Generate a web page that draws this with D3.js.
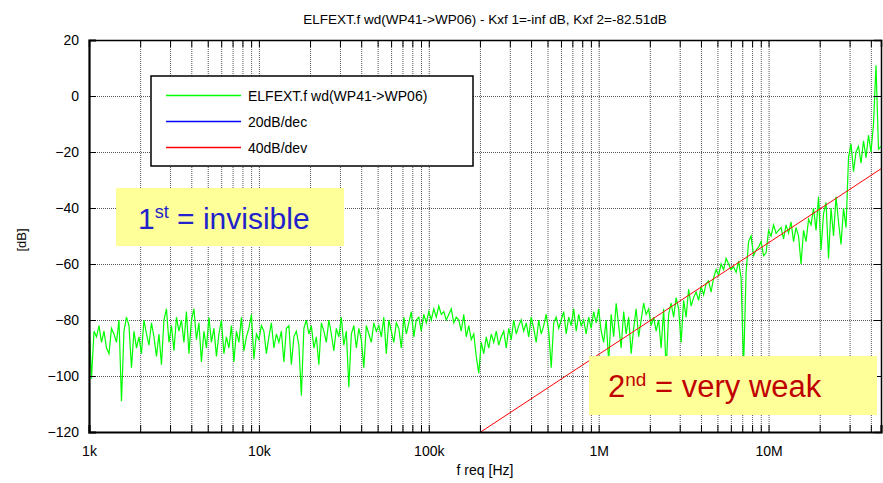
<!DOCTYPE html>
<html>
<head>
<meta charset="utf-8">
<script src="https://cdnjs.cloudflare.com/ajax/libs/d3/7.8.5/d3.min.js"></script>
<style>
  body { margin: 0; background: #fff; }
  svg text { font-family: "Liberation Sans", Arial, sans-serif; }
</style>
</head>
<body>
<svg id="chart"></svg>
<script>
const width = 883, height = 483;
const margin = {top: 40, right: 2, bottom: 51, left: 89};
const INNER_WIDTH = width - margin.left - margin.right;
const INNER_HEIGHT = height - margin.top - margin.bottom;

// measured sweep: log spaced from fStart to fStop
const fStart = 1e3, fStop = 4.59e7;
const elfext_db = [
  -80,-101,-84,-86, -82,-88,-84,-90, -92,-83,-85,-88, -80,-109,-84,-79,
  -82,-97,-84,-90, -86,-92,-80,-85, -89,-81,-86,-93, -85,-96,-80,-76,
  -88,-82,-91,-79, -84,-80,-88,-77, -92,-80,-76,-87, -81,-95,-84,-90,
  -79,-88,-83,-93, -85,-80,-92,-86, -90,-82,-95,-84, -88,-79,-91,-86,
  -83,-78,-94,-85, -87,-82,-84,-92, -86,-81,-90,-85, -88,-84,-95,-83,
  -82,-96,-86,-84, -89,-107,-83,-80, -85,-82,-90,-86, -96,-81,-84,-88,
  -80,-85,-91,-83, -86,-79,-89,-84, -104,-85,-82,-90, -83,-87,-97,-82,
  -85,-88,-81,-84, -82,-86,-79,-92, -80,-84,-88,-81, -83,-90,-79,-85,
  -81,-77,-86,-80, -79,-84,-78,-81, -77,-80,-76,-79, -75,-78,-77,-80,
  -78,-76,-81,-79, -80,-84,-78,-86, -82,-87,-85,-93, -99,-88,-92,-86,
  -90,-85,-88,-84, -89,-86,-84,-90, -83,-87,-80,-85, -82,-80,-84,-81,
  -86,-79,-83,-88, -80,-85,-82,-78, -84,-97,-81,-79, -83,-80,-77,-85,
  -79,-82,-76,-84, -78,-82,-80,-85, -79,-83,-77,-81, -76,-84,-88,-80,
  -95,-78,-86,-74, -82,-90,-77,-85, -79,-92,-83,-76, -86,-80,-74,-78,
  -76,-82,-79,-84, -80,-90,-76,-98, -78,-74,-79,-72, -76,-88,-73,-79,
  -69,-75,-72,-70, -73,-68,-71,-67, -66,-70,-65,-62, -64,-60,-62,-58,
  -60,-62,-61,-63, -59,-65,-97,-63, -52,-50,-57,-55, -54,-52,-57,-56,
  -48,-50,-46,-49, -48,-47,-51,-46, -49,-45,-52,-47, -50,-60,-48,-52,
  -44,-46,-40,-48, -36,-55,-42,-38, -58,-40,-50,-36, -45,-53,-40,-47,
  -22,-17,-27,-20, -18,-24,-16,-22, -14,-20,-10,11, -19,-18
];
// 40 dB/dec reference line end points
const slope40 = [[2.02e5, -120], [4.59e7, -26]];

const yTicks = [-120, -100, -80, -60, -40, -20, 0, 20];
const decades = [1e3, 1e4, 1e5, 1e6, 1e7];
const decadeLabels = ["1k", "10k", "100k", "1M", "10M"];
const legendNames = ["ELFEXT.f wd(WP41->WP06)", "20dB/dec", "40dB/dev"];
const legendColors = ["#00ff00", "#0000ff", "#ff0000"];

let svg = d3.select("#chart").attr("width", width).attr("height", height);
let g = svg.append("g").attr("transform", `translate(${margin.left},${margin.top})`);

let x = d3.scaleLog().domain([fStart, fStop]).range([0, INNER_WIDTH]);
let y = d3.scaleLinear().domain([-120, 20]).range([INNER_HEIGHT, 0]);

let allTicks = [];
decades.forEach(d => { for (let k = 1; k < 10; k++) if (d * k <= fStop) allTicks.push(d * k); });

// grid
let gx = g.append("g")
    .attr("transform", `translate(0,${INNER_HEIGHT})`)
    .call(d3.axisBottom(x).tickValues(allTicks).tickSize(-INNER_HEIGHT).tickFormat(""));
let gy = g.append("g")
    .call(d3.axisLeft(y).tickValues(yTicks).tickSize(-INNER_WIDTH).tickFormat(""));
[gx, gy].forEach(a => {
    a.select(".domain").remove();
    a.selectAll("line").style("stroke", "#555").style("stroke-dasharray", "1,1");
});

// data
g.append("clipPath").attr("id", "clip")
  .append("rect").attr("width", INNER_WIDTH).attr("height", INNER_HEIGHT);

let n = elfext_db.length;
let lf0 = Math.log10(fStart), lf1 = Math.log10(fStop);
let series = elfext_db.map((v, i) => ({f: Math.pow(10, lf0 + (lf1 - lf0) * i / (n - 1)), db: v}));

let line = d3.line().x(d => x(d.f)).y(d => y(d.db));
g.append("path").datum(series)
    .attr("clip-path", "url(#clip)")
    .attr("d", line)
    .style("fill", "none").style("stroke", "#00ff00").style("stroke-width", 1.2);

g.append("path").datum(slope40.map(p => ({f: p[0], db: p[1]})))
    .attr("clip-path", "url(#clip)")
    .attr("d", line)
    .style("fill", "none").style("stroke", "#ff0000").style("stroke-width", 1);

// axes
let xAxis = g.append("g").attr("transform", `translate(0,${INNER_HEIGHT})`)
    .call(d3.axisBottom(x).tickValues(allTicks).tickSize(-7).tickPadding(14)
        .tickFormat(d => { let i = decades.indexOf(d); return i >= 0 ? decadeLabels[i] : ""; }));
let xTop = g.append("g")
    .call(d3.axisTop(x).tickValues(allTicks).tickSize(-7).tickFormat(""));
let yAxis = g.append("g")
    .call(d3.axisLeft(y).tickValues(yTicks).tickSize(-7).tickPadding(10));
let yRight = g.append("g").attr("transform", `translate(${INNER_WIDTH},0)`)
    .call(d3.axisRight(y).tickValues(yTicks).tickSize(-7).tickFormat(""));
[xAxis, xTop, yAxis, yRight].forEach(a => {
    a.select(".domain").style("stroke", "#000").style("stroke-width", 1.5);
    a.selectAll(".tick line").style("stroke", "#000");
    a.selectAll("text").style("font-size", "14px").style("fill", "#000");
});
xAxis.select(".domain").style("stroke-width", 2.2);
yAxis.select(".domain").style("stroke-width", 2.2);

// titles
svg.append("text").attr("x", 485).attr("y", 24)
    .style("text-anchor", "middle").style("font-size", "13.5px")
    .text("ELFEXT.f wd(WP41->WP06) - Kxf 1=-inf dB, Kxf 2=-82.51dB");
svg.append("text").attr("x", 485).attr("y", 475)
    .style("text-anchor", "middle").style("font-size", "14px")
    .text("f req [Hz]");
svg.append("text").attr("transform", `translate(${26},${240}) rotate(-90)`)
    .style("text-anchor", "middle").style("font-size", "13px")
    .text("[dB]");

// legend
let lg = svg.append("g").attr("transform", "translate(151,76)");
lg.append("rect").attr("width", 322).attr("height", 90)
    .style("fill", "#fff").style("stroke", "#000").style("stroke-width", 1.5);
legendNames.forEach((name, i) => {
    let yy = 19.5 + i * 26;
    lg.append("line").attr("x1", 15).attr("x2", 90).attr("y1", yy).attr("y2", yy)
        .style("stroke", legendColors[i]).style("stroke-width", 1.4);
    lg.append("text").attr("x", 97).attr("y", yy + 5).style("font-size", "14px").text(name);
});

// annotation boxes
svg.append("rect").attr("x", 116).attr("y", 188).attr("width", 228).attr("height", 58)
    .style("fill", "#ffff99");
let t1 = svg.append("text").attr("x", 138).attr("y", 229)
    .style("font-size", "30px").style("fill", "#2222cc");
t1.append("tspan").text("1");
t1.append("tspan").attr("dy", -11).style("font-size", "18px").text("st");
t1.append("tspan").attr("dy", 11).text(" = invisible");

svg.append("rect").attr("x", 589).attr("y", 356).attr("width", 288).attr("height", 59)
    .style("fill", "#ffff99");
let t2 = svg.append("text").attr("x", 608).attr("y", 397)
    .style("font-size", "31px").style("fill", "#c00000");
t2.append("tspan").text("2");
t2.append("tspan").attr("dy", -11).style("font-size", "19px").text("nd");
t2.append("tspan").attr("dy", 11).text(" = very weak");
</script>
</body>
</html>
